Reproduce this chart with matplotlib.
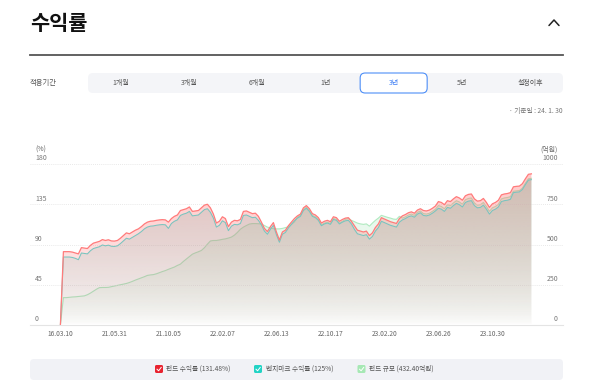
import numpy as np
import matplotlib
matplotlib.use('Agg')
import matplotlib.pyplot as plt
from matplotlib.patches import FancyBboxPatch, Polygon
from matplotlib.transforms import blended_transform_factory, ScaledTranslation
from matplotlib.colors import to_rgb

plt.rcParams['font.family'] = ['Noto Sans CJK KR', 'DejaVu Sans']

# ---------------- data ----------------
fund_return = [0, 82, 82, 82, 81.5, 80.5, 79.5, 86.5, 86, 85.5,
    89, 91.5, 92.5, 93.5, 95.5, 94.5, 95.3, 94, 93.8, 94.5,
    97, 100, 103, 102, 104, 106, 107.5, 110, 113, 115,
    116, 116.3, 117, 117.5, 117.8, 117.5, 115, 119, 121.5, 123,
    128, 129, 130, 132, 127, 127.5, 128, 131, 134, 135,
    131, 124, 114, 116, 121, 119, 110, 115, 117, 116.5,
    118, 127, 127.5, 126, 124.5, 125, 121.5, 115, 108, 104.5,
    110, 114.5, 104, 95, 104, 106, 111, 115, 119, 122,
    124, 131, 133.5, 130, 124.5, 123, 120, 114, 116, 117,
    115.5, 121, 120, 116, 118, 119.5, 120, 116, 111, 106,
    105, 104, 105, 100, 103, 109, 113, 120, 118.5, 117,
    115.5, 114.5, 113.5, 119, 122, 123.5, 125.5, 126.5, 125, 128.5,
    130, 128, 127.5, 128.5, 130.5, 133, 138, 137, 134.5, 139,
    138, 141, 143.5, 142, 139.5, 144.5, 146, 146.5, 141, 138.5,
    139, 141.5, 137, 131.5, 135.5, 137, 139.5, 145.5, 146.5, 147,
    148, 154.5, 155, 155.3, 158, 163.5, 168.5, 169]

bench_return = [0, 76, 76, 76, 75.5, 74.5, 73, 80.5, 80, 79.5,
    83, 85.5, 86.5, 87.5, 89.5, 88.5, 89.3, 88, 87.8, 88.5,
    91, 94, 97, 96, 98, 100, 102, 104.5, 107.5, 109.5,
    110.5, 110.8, 111.5, 112, 112.3, 112, 108, 113.5, 116, 117.5,
    122.5, 124, 125, 127, 122, 122.5, 123, 126, 129, 130,
    126, 119.5, 109.5, 111.5, 116.5, 114.5, 105.5, 110.5, 112.5, 112,
    113.5, 122.5, 123, 121.5, 120, 120.5, 117, 112, 105, 101.5,
    107, 111.5, 101, 92.5, 101.5, 103.5, 108.5, 112.5, 116.5, 119.5,
    121.5, 128, 130.5, 127, 121.5, 120, 117, 111, 113, 114,
    112.5, 118, 117, 113, 115, 116.5, 117, 113, 107, 102,
    101, 100, 101, 96, 99, 105, 109, 116, 114.5, 113,
    111.5, 110.5, 109.5, 115, 117.5, 119, 121, 122, 120.5, 124,
    125.5, 122.5, 122, 123, 125, 127.5, 130.5, 129.5, 127, 131.5,
    130.5, 133.5, 136, 134.5, 132, 137, 138.5, 139, 133.5, 131,
    131.5, 134, 129.5, 124, 128, 129.5, 132, 138, 139, 139.5,
    140.5, 148, 148.5, 148.8, 151.5, 157, 162, 162.5]

fund_size = [0, 170, 170, 172, 174, 175, 177, 179, 181, 188,
    198, 210, 222, 232, 233, 233, 234, 238, 242, 246,
    250, 254, 258, 264, 271, 279, 286, 293, 300, 308,
    311, 313, 318, 325, 332, 338, 346, 353, 360, 370,
    378, 395, 410, 425, 440, 448, 455, 463, 480, 502,
    522, 525, 525, 528, 532, 535, 540, 546, 558, 575,
    595, 608, 618, 627, 630, 630, 629, 628, 618, 608,
    603, 598, 597, 597, 600, 605, 610, 625, 640, 669,
    681, 717, 731, 711, 681, 672, 656, 622, 633, 639,
    631, 661, 656, 633, 644, 656, 661, 650, 642, 633,
    628, 625, 628, 614, 633, 650, 664, 681, 675, 669,
    664, 658, 656, 675, 664, 672, 683, 689, 681, 700,
    708, 692, 689, 694, 706, 719, 742, 736, 722, 747,
    742, 758, 772, 764, 750, 778, 786, 789, 758, 744,
    747, 761, 736, 706, 728, 736, 750, 783, 789, 792,
    797, 831, 833, 835, 850, 881, 908, 911]

xtick_labels = ['16.03.10', '21.05.31', '21.10.05', '22.02.07', '22.06.13',
                '22.10.17', '23.02.20', '23.06.26', '23.10.30']
xtick_step = 18
left_ticks = [0, 45, 90, 135, 180]
right_ticks = [0, 250, 500, 750, 1000]
tabs = ['1개월', '3개월', '6개월', '1년', '3년', '5년', '설정이후']
selected_tab = '3년'
legend_labels = ['펀드 수익률 (131.48%)', '벤치마크 수익률 (125%)', '펀드 규모 (432.40억원)']

# ---------------- styles ----------------
RED_LINE, RED_FILL = '#ff7b7b', '#ff6f6f'
TEAL_LINE, TEAL_FILL = '#78c4bf', '#2ec4b6'
GREEN_LINE, GREEN_FILL = '#b0eac0', '#8fe0a5'
LEG_COLORS = ['#e8232f', '#22d3c5', '#a6e8b4']

W, H = 600, 386
fig = plt.figure(figsize=(W / 100, H / 100), dpi=100)

# overlay axes in pixel coordinates for UI chrome
ui = fig.add_axes([0, 0, 1, 1])
ui.set_xlim(0, W)
ui.set_ylim(H, 0)
ui.axis('off')

ui.text(30, 23, '수익률', fontsize=15, fontweight='bold', va='center', ha='left', color='#111111')
ui.plot([549, 554, 559], [25.5, 20, 25.5], color='#222222', lw=1.1, solid_capstyle='round')
ui.plot([30, 563], [55, 55], color='#555555', lw=1.3)

ui.text(30, 83, '적용기간', fontsize=5.3, va='center', ha='left', color='#555555')
ui.add_patch(FancyBboxPatch((88, 73), 475, 20, boxstyle='round,pad=0,rounding_size=5',
                            fc='#f4f5f8', ec='none'))
tab_centers = np.linspace(121, 530, len(tabs))
for t, cx in zip(tabs, tab_centers):
    if t == selected_tab:
        ui.add_patch(FancyBboxPatch((cx - 33.5, 73), 67, 20, boxstyle='round,pad=0,rounding_size=5',
                                    fc='white', ec='#4d8ef7', lw=0.8))
        ui.text(cx, 83, t, fontsize=5, va='center', ha='center', color='#3d7ef5')
    else:
        ui.text(cx, 83, t, fontsize=5, va='center', ha='center', color='#555555')

ui.text(563, 111, '· 기준일 : 24. 1. 30', fontsize=4.8, va='center', ha='right', color='#777777')
ui.text(35, 150, '(%)', fontsize=5, va='center', ha='left', color='#666666')
ui.text(558, 150, '(억원)', fontsize=5, va='center', ha='right', color='#666666')

# legend bar
ui.add_patch(FancyBboxPatch((30, 359), 533, 21, boxstyle='round,pad=0,rounding_size=4',
                            fc='#f1f2f6', ec='none'))
leg_x = [155, 254, 357.5]
for lx, lab, c in zip(leg_x, legend_labels, LEG_COLORS):
    ui.add_patch(FancyBboxPatch((lx, 365), 8, 8, boxstyle='round,pad=0,rounding_size=1.5',
                                fc=c, ec='none'))
    ui.plot([lx + 2, lx + 3.6, lx + 6.2], [369.2, 370.8, 367.4], color='white', lw=0.7)
    ui.text(lx + 11.5, 369, lab, fontsize=4.8, va='center', ha='left', color='#555555')

# ---------------- chart ----------------
n = len(fund_return)
x = np.arange(n)
ax2 = fig.add_axes([30 / W, 1 - 325 / H, 533 / W, 161 / H])
ax = fig.add_axes([30 / W, 1 - 325 / H, 533 / W, 161 / H], sharex=ax2)
ax.patch.set_visible(False)
ax2.patch.set_visible(False)
xl = (-(60.4 - 30) / 3, (n - 1) + (563 - (60.4 + 3 * (n - 1))) / 3)
ax2.set_xlim(*xl)
ax.set_ylim(left_ticks[0], left_ticks[-1])
ax2.set_ylim(right_ticks[0], right_ticks[-1])


def grad_fill(a, xs, ys, color, amax, ymax, z, power=0.7):
    verts = [(xs[0], 0)] + list(zip(xs, ys)) + [(xs[-1], 0)]
    poly = Polygon(verts, closed=True, fc='none', ec='none')
    a.add_patch(poly)
    g = np.linspace(0, 1, 256)[:, None]
    img = np.zeros((256, 1, 4))
    img[..., :3] = to_rgb(color)
    img[..., 3] = amax * g ** power
    im = a.imshow(img, extent=[xl[0], xl[1], 0, ymax], origin='lower', aspect='auto',
                  interpolation='bilinear', zorder=z)
    im.set_clip_path(poly)


grad_fill(ax2, x, fund_size, GREEN_FILL, 0.28, right_ticks[-1], 1)
ax2.plot(x, fund_size, color=GREEN_LINE, lw=0.8, zorder=2)
ax2.set_aspect('auto')

grad_fill(ax, x, bench_return, TEAL_FILL, 0.25, left_ticks[-1], 1)
grad_fill(ax, x, fund_return, RED_FILL, 0.40, left_ticks[-1], 2)
ax.plot(x, bench_return, color=TEAL_LINE, lw=0.75, zorder=4)
ax.plot(x, fund_return, color=RED_LINE, lw=0.9, zorder=5)
ax.set_aspect('auto')
ax.set_xlim(*xl)

for v in left_ticks[1:]:
    ax.axhline(v, color='#e2e2e2', lw=0.6, ls=(0, (1, 1.5)), zorder=0)
ax.axhline(0, color='#e4e4e4', lw=0.8, zorder=6, clip_on=False)

for s in list(ax.spines.values()) + list(ax2.spines.values()):
    s.set_visible(False)
ax.set_yticks([])
ax2.set_yticks([])

off = ScaledTranslation(0, 1.2 / 72, fig.dpi_scale_trans)
tl = blended_transform_factory(ax.transAxes, ax.transData) + off
for v in left_ticks:
    ax.text(5 / 533, v, str(v), transform=tl, ha='left', va='bottom', fontsize=5, color='#777777')
tr = blended_transform_factory(ax2.transAxes, ax2.transData) + off
for v in right_ticks:
    ax2.text(528 / 533, v, str(v), transform=tr, ha='right', va='bottom', fontsize=5, color='#777777')

ax.set_xticks(np.arange(len(xtick_labels)) * xtick_step)
ax.set_xticklabels(xtick_labels)
ax.tick_params(axis='x', length=0, pad=3.5, labelsize=4.8, labelcolor='#666666')
ax2.tick_params(axis='x', length=0, labelbottom=False)

fig.savefig('out.png', dpi=100)
